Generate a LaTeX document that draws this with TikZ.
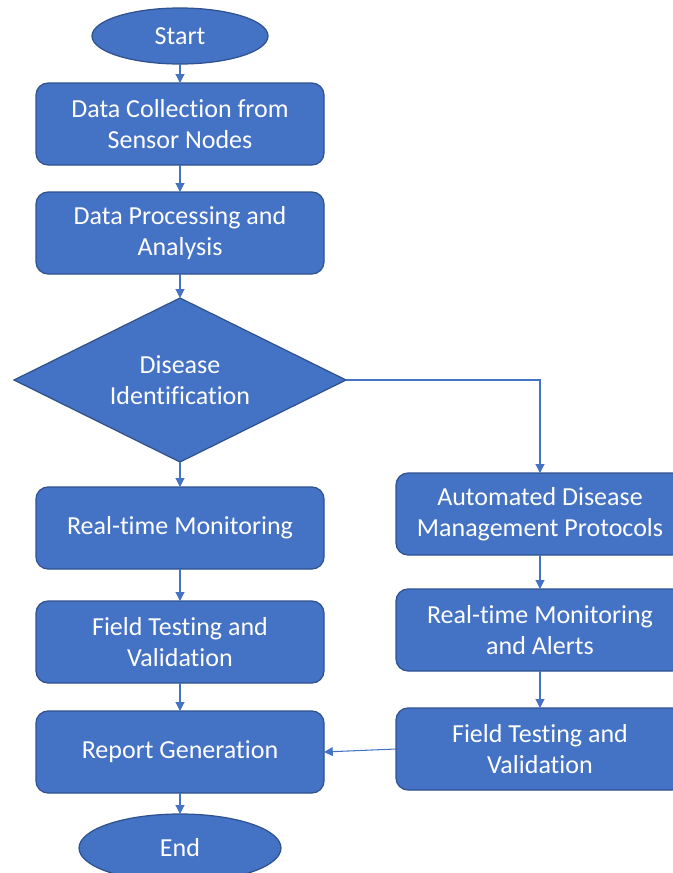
\documentclass[tikz,border=0pt]{standalone}
\usepackage{fontspec}
\setmainfont{Carlito}[Ligatures=NoCommon]
\usepackage{tikz}
\usetikzlibrary{positioning,arrows.meta,shapes.geometric}

\definecolor{officeblue}{HTML}{4472C4}
\definecolor{edgeblue}{HTML}{2F528F}

\begin{document}
\begin{tikzpicture}[
                    node distance=0.5cm,
                    every node/.style={text=white, font=\fontsize{14.8}{17.6}\selectfont, align=center},
                    process/.style={rectangle, rounded corners=0.24cm, fill=officeblue, draw=edgeblue, line width=0.7pt, minimum width=5.76cm, minimum height=1.64cm, outer sep=0pt},
                    terminal/.style={ellipse, fill=officeblue, draw=edgeblue, line width=0.7pt, inner sep=0pt, outer sep=0pt},
                    decision/.style={diamond, shape aspect=2.02, fill=officeblue, draw=edgeblue, line width=0.7pt, minimum width=6.64cm, minimum height=3.28cm, inner sep=0pt, outer sep=0pt},
                    flow/.style={-{Triangle[length=5pt,width=5pt]}, officeblue, line width=0.6pt},
                ]
                    \useasboundingbox (0,0) rectangle (13.46,-17.46);
                    \clip (0,0) rectangle (13.46,-17.46);

                    \node[terminal, minimum width=3.52cm, minimum height=1.12cm] (start) at (3.6,-0.72) {Start};
                    \node[process, below=0.38cm of start] (collect) {Data Collection from\\Sensor Nodes};
                    \node[process, below=0.54cm of collect] (analyse) {Data Processing and\\Analysis};
                    \node[decision, below=0.48cm of analyse] (identify) {Disease\\Identification};
                    \node[process, below=0.5cm of identify] (monitor) {Real-time Monitoring};
                    \node[process, below=0.64cm of monitor] (fieldtest) {Field Testing and\\Validation};
                    \node[process, below=0.56cm of fieldtest] (report) {Report Generation};
                    \node[terminal, minimum width=4.04cm, minimum height=1.36cm, below=0.42cm of report] (stop) {End};

                    % right branch
                    \node[process] (protocols) at (10.8,-10.28) {Automated Disease\\Management Protocols};
                    \node[process, below=0.68cm of protocols] (alerts) {Real-time Monitoring\\and Alerts};
                    \node[process, below=0.74cm of alerts] (fieldcheck) {Field Testing and\\Validation};

                    \draw[flow] (start) -- (collect);
                    \draw[flow] (collect) -- (analyse);
                    \draw[flow] (analyse) -- (identify);
                    \draw[flow] (identify) -- (monitor);
                    \draw[flow] (monitor) -- (fieldtest);
                    \draw[flow] (fieldtest) -- (report);
                    \draw[flow] (report) -- (stop);
                    \draw[flow] (identify.east) -| (protocols.north);
                    \draw[flow] (protocols) -- (alerts);
                    \draw[flow] (alerts) -- (fieldcheck);
                    \draw[flow] (fieldcheck.west) -- (report.east);
                \end{tikzpicture}
\end{document}
